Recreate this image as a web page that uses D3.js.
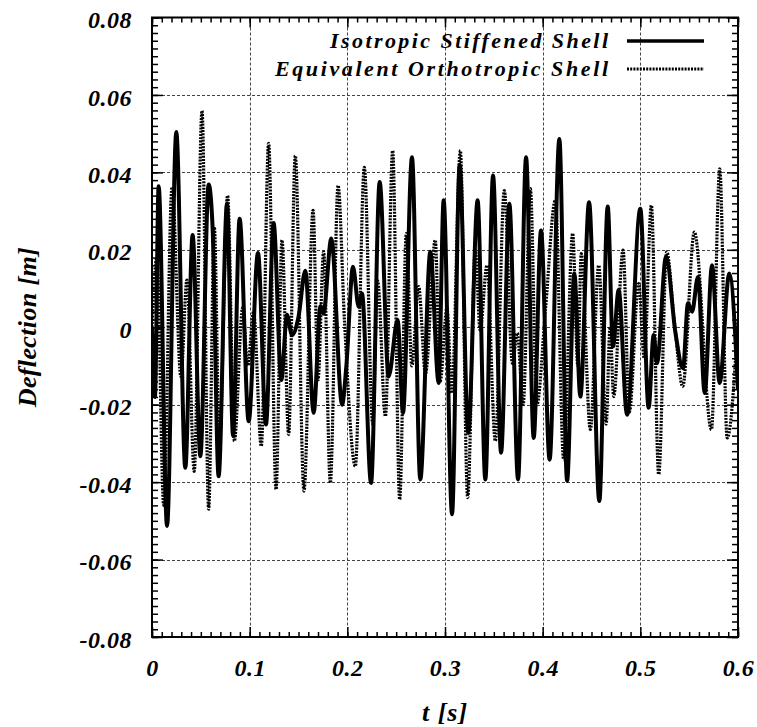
<!DOCTYPE html>
<html><head><meta charset="utf-8">
<script src="https://cdn.jsdelivr.net/npm/d3@7"></script>
<style>body{margin:0;background:#fff;}</style>
</head><body>
<svg id="chart" width="757" height="727"></svg>
<script>
// ---- data ----
const xTickValues = [0, 0.1, 0.2, 0.3, 0.4, 0.5, 0.6];
const yTickValues = [-0.08, -0.06, -0.04, -0.02, 0, 0.02, 0.04, 0.06, 0.08];
const xTickLabels = ["0", "0.1", "0.2", "0.3", "0.4", "0.5", "0.6"];
const yTickLabels = ["-0.08", "-0.06", "-0.04", "-0.02", "0", "0.02", "0.04", "0.06", "0.08"];
const seriesNames = ["Isotropic Stiffened Shell", "Equivalent Orthotropic Shell"];
const xTitle = "t [s]";
const yTitle = "Deflection [m]";

const isoT = [0.000,0.003,0.0068,0.0154,0.0249,0.0341,0.0416,0.0495,0.058,0.062,0.0682,0.0768,0.083,0.0897,0.099,
  0.1085,0.1167,0.1245,0.1324,0.1382,0.1433,0.150,0.157,0.1655,0.1725,0.1755,0.1836,0.1946,0.199,
  0.2058,0.2116,0.215,0.2243,0.2331,0.2423,0.2515,0.257,0.2662,0.2747,0.285,0.2935,0.2986,
  0.3072,0.315,0.3238,0.3334,0.3413,0.3492,0.3574,0.3659,0.3748,0.383,0.3908,0.3983,
  0.4071,0.4171,0.425,0.4324,0.4386,0.4475,0.458,0.4666,0.472,0.4778,0.4864,
  0.500,0.5085,0.5136,0.517,0.5263,0.536,0.5437,0.5488,0.553,0.559,0.5659,0.5734,0.5812,0.5911,0.600];
const isoY = [0.000,-0.018,0.0364,-0.0513,0.0504,-0.0363,0.0238,-0.0333,0.0369,0.026,-0.0385,0.0319,-0.028,0.028,-0.0243,
  0.0192,-0.0251,0.0269,-0.0136,0.0032,-0.002,0.0027,0.0146,-0.0221,0.0055,0.0035,0.0229,-0.020,-0.010,
  0.0156,0.0053,0.0087,-0.0402,0.0375,-0.0127,0.0019,-0.0221,0.0439,-0.0393,0.0195,-0.0144,0.0328,
  -0.0483,0.042,-0.0273,0.0328,-0.0393,0.0392,-0.0324,0.0319,-0.0393,0.0439,-0.0286,0.025,
  -0.0342,0.0486,-0.0397,0.0139,-0.0179,0.0323,-0.0449,0.0312,-0.005,0.0096,-0.0226,
  0.0306,-0.0208,-0.002,-0.0093,0.0182,-0.0015,-0.0106,0.0062,0.004,0.013,-0.017,0.016,-0.0144,0.0139,-0.0161];

const orthoT = [0.000,0.005,0.012,0.0205,0.0296,0.0358,0.0432,0.0512,0.058,0.0638,0.069,0.0774,0.0843,0.0928,0.098,
  0.104,0.1119,0.1194,0.127,0.1331,0.1399,0.1467,0.1556,0.1649,0.170,0.1757,0.1826,0.1905,0.197,
  0.2082,0.2174,0.226,0.231,0.239,0.2464,0.2536,0.2604,0.266,0.273,0.280,0.290,0.295,
  0.302,0.307,0.3157,0.3232,0.331,0.336,0.343,0.3515,0.3607,0.369,0.374,0.380,0.3874,0.394,
  0.403,0.413,0.4215,0.4307,0.436,0.4395,0.4488,0.4574,0.465,0.469,0.4727,0.4823,0.4887,
  0.4983,0.504,0.5113,0.5188,0.527,0.535,0.5434,0.5553,0.5728,0.5813,0.5889,0.600];
const orthoY = [0.000,0.018,-0.046,0.0362,-0.0127,0.0122,-0.0372,0.0559,-0.047,0.0259,-0.030,0.034,-0.0294,0.005,-0.010,
  0.004,-0.0307,0.0475,-0.0419,0.0225,-0.0277,0.0443,-0.0423,0.0302,-0.0136,0.0195,-0.0402,0.0366,0.002,
  -0.0359,0.0413,-0.025,0.012,-0.023,0.0456,-0.0445,0.0242,-0.010,0.0105,-0.012,0.0225,-0.014,
  0.005,-0.017,0.0456,-0.044,0.0199,-0.0007,0.016,-0.0294,0.0353,-0.0093,-0.0015,-0.020,0.0358,-0.020,
  0.005,0.0328,-0.0342,0.0242,-0.010,0.019,-0.0264,0.016,-0.025,0.000,-0.0179,0.0199,-0.0219,
  0.0113,-0.008,0.0315,-0.038,0.0195,0.001,-0.0153,0.0246,-0.0264,0.0409,-0.0286,0.002];

// ---- layout ----
const L = 152, R = 738, T = 17.5, B = 637;
const FAMILY = "Liberation Serif";
const svg = d3.select("#chart");
const x = d3.scaleLinear().domain([0, 0.6]).range([L, R]);
const y = d3.scaleLinear().domain([-0.08, 0.08]).range([B, T]);

function styleText(sel, size, spacing) {
  sel.attr("font-family", FAMILY).attr("font-weight", "bold").attr("font-style", "italic")
     .attr("font-size", size).attr("fill", "#000");
  if (spacing != null) sel.attr("letter-spacing", spacing);
  return sel;
}

// grid
const grid = svg.append("g").attr("stroke", "#444").attr("stroke-width", 1).attr("stroke-dasharray", "3,2");
grid.selectAll("line.gx").data(xTickValues.slice(1, -1)).join("line")
  .attr("x1", d => Math.round(x(d)) + 0.5).attr("x2", d => Math.round(x(d)) + 0.5)
  .attr("y1", T).attr("y2", B);
grid.selectAll("line.gy").data(yTickValues.slice(1, -1)).join("line")
  .attr("y1", d => Math.round(y(d)) + 0.5).attr("y2", d => Math.round(y(d)) + 0.5)
  .attr("x1", L).attr("x2", R);

// clip
svg.append("clipPath").attr("id", "clip").append("rect")
  .attr("x", L).attr("y", T).attr("width", R - L).attr("height", B - T);

const line = d3.line().x(d => x(d[0])).y(d => y(d[1])).curve(d3.curveMonotoneX);
const isoData = isoT.map((t, i) => [t, isoY[i]]);
const orthoData = orthoT.map((t, i) => [t, orthoY[i]]);

const plot = svg.append("g").attr("clip-path", "url(#clip)");
plot.append("path").datum(isoData).attr("d", line)
  .attr("fill", "none").attr("stroke", "#000").attr("stroke-width", 4).attr("stroke-linejoin", "round");
plot.append("path").datum(orthoData).attr("d", line)
  .attr("fill", "none").attr("stroke", "#000").attr("stroke-width", 3.2).attr("stroke-dasharray", "2,1.2");

// axes (ticks inward on all four sides)
const xMinor = d3.range(0, 61).map(i => i / 100);
const yMinor = d3.range(-40, 41).map(i => i / 500);
function clean(g) { g.select(".domain").remove(); g.selectAll("text").remove(); g.selectAll("line").attr("stroke", "#000").attr("stroke-width", 1.5); }
svg.append("g").attr("transform", `translate(0,${B})`).call(d3.axisBottom(x).tickValues(xMinor).tickSize(-5)).call(clean);
svg.append("g").attr("transform", `translate(0,${B})`).call(d3.axisBottom(x).tickValues(xTickValues).tickSize(-10)).call(clean);
svg.append("g").attr("transform", `translate(0,${T})`).call(d3.axisTop(x).tickValues(xMinor).tickSize(-5)).call(clean);
svg.append("g").attr("transform", `translate(0,${T})`).call(d3.axisTop(x).tickValues(xTickValues).tickSize(-10)).call(clean);
svg.append("g").attr("transform", `translate(${L},0)`).call(d3.axisLeft(y).tickValues(yMinor).tickSize(-6)).call(clean);
svg.append("g").attr("transform", `translate(${L},0)`).call(d3.axisLeft(y).tickValues(yTickValues).tickSize(-11)).call(clean);
svg.append("g").attr("transform", `translate(${R},0)`).call(d3.axisRight(y).tickValues(yMinor).tickSize(-6)).call(clean);
svg.append("g").attr("transform", `translate(${R},0)`).call(d3.axisRight(y).tickValues(yTickValues).tickSize(-11)).call(clean);

// frame
svg.append("rect").attr("x", L).attr("y", T).attr("width", R - L).attr("height", B - T)
  .attr("fill", "none").attr("stroke", "#000").attr("stroke-width", 2);

// tick labels
const labelAxisX = svg.append("g").attr("transform", `translate(0,${B})`)
  .call(d3.axisBottom(x).tickValues(xTickValues).tickSize(0).tickPadding(0)
    .tickFormat((d, i) => xTickLabels[i]));
labelAxisX.select(".domain").remove();
styleText(labelAxisX.selectAll("text").attr("y", 39).attr("dy", null), 24, 0.5);

const labelAxisY = svg.append("g").attr("transform", `translate(${L},0)`)
  .call(d3.axisLeft(y).tickValues(yTickValues).tickSize(0).tickPadding(0)
    .tickFormat((d, i) => yTickLabels[i]));
labelAxisY.select(".domain").remove();
styleText(labelAxisY.selectAll("text").attr("x", -20).attr("dy", "0.42em"), 24, 0.5);

// axis titles
styleText(svg.append("text").attr("x", (L + R) / 2).attr("y", 721).attr("text-anchor", "middle"), 26, 1).text(xTitle);
styleText(svg.append("text").attr("transform", `translate(36,${(T + B) / 2}) rotate(-90)`).attr("text-anchor", "middle"), 26, null)
  .attr("textLength", 160).attr("lengthAdjust", "spacing").text(yTitle);

// legend
const legend = svg.append("g");
const legRows = [{name: seriesNames[0], y: 41, dash: null, w: 3.5, len: 278},
                 {name: seriesNames[1], y: 69, dash: "2,1.2", w: 3, len: 333}];
legRows.forEach(r => {
  styleText(legend.append("text").attr("x", 608).attr("y", r.y + 7).attr("text-anchor", "end"), 22, null)
    .attr("textLength", r.len).attr("lengthAdjust", "spacing").text(r.name);
  legend.append("line").attr("x1", 627).attr("x2", 704).attr("y1", r.y).attr("y2", r.y)
    .attr("stroke", "#000").attr("stroke-width", r.w).attr("stroke-dasharray", r.dash);
});
</script>
</body></html>
